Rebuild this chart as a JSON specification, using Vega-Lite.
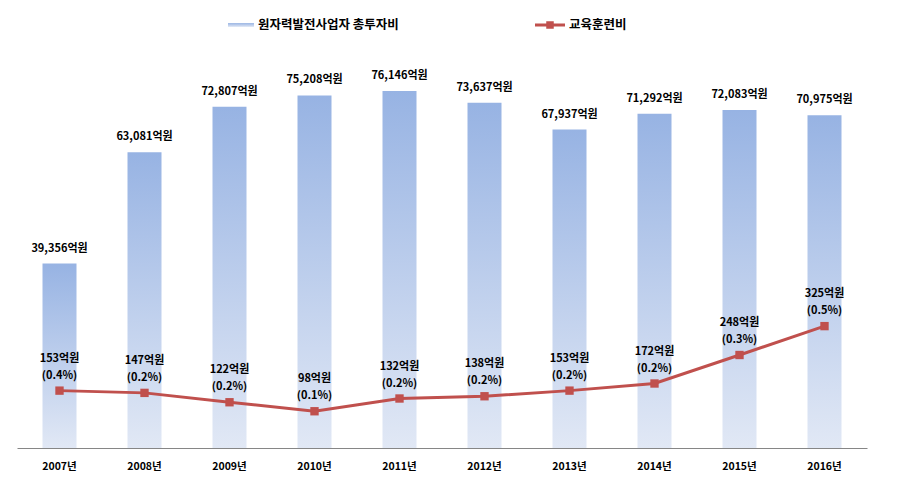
{
  "$schema": "https://vega.github.io/schema/vega-lite/v6.json",
  "width": 850,
  "height": 375,
  "autosize": "none",
  "padding": {"left": 17, "top": 73, "right": 46, "bottom": 39},
  "background": "white",
  "config": {
    "view": {"stroke": null},
    "font": "Noto Sans CJK KR",
    "legend": {"padding": 0, "labelFont": "Noto Sans CJK KR", "labelFontSize": 12.5, "labelFontWeight": "bold", "labelColor": "#000000", "labelOffset": 4}
  },
  "data": {
    "values": [
      {"year": "2007년", "invest": 39356, "investLabel": "39,356억원", "train": 153, "trainLabel": "153억원\n(0.4%)"},
      {"year": "2008년", "invest": 63081, "investLabel": "63,081억원", "train": 147, "trainLabel": "147억원\n(0.2%)"},
      {"year": "2009년", "invest": 72807, "investLabel": "72,807억원", "train": 122, "trainLabel": "122억원\n(0.2%)"},
      {"year": "2010년", "invest": 75208, "investLabel": "75,208억원", "train": 98, "trainLabel": "98억원\n(0.1%)"},
      {"year": "2011년", "invest": 76146, "investLabel": "76,146억원", "train": 132, "trainLabel": "132억원\n(0.2%)"},
      {"year": "2012년", "invest": 73637, "investLabel": "73,637억원", "train": 138, "trainLabel": "138억원\n(0.2%)"},
      {"year": "2013년", "invest": 67937, "investLabel": "67,937억원", "train": 153, "trainLabel": "153억원\n(0.2%)"},
      {"year": "2014년", "invest": 71292, "investLabel": "71,292억원", "train": 172, "trainLabel": "172억원\n(0.2%)"},
      {"year": "2015년", "invest": 72083, "investLabel": "72,083억원", "train": 248, "trainLabel": "248억원\n(0.3%)"},
      {"year": "2016년", "invest": 70975, "investLabel": "70,975억원", "train": 325, "trainLabel": "325억원\n(0.5%)"}
    ]
  },
  "encoding": {
    "x": {
      "field": "year",
      "type": "ordinal",
      "scale": {"paddingInner": 0.6, "paddingOuter": 0.3},
      "axis": {
        "title": null,
        "labelAngle": 0,
        "ticks": false,
        "domainColor": "#868686",
        "domainWidth": 1,
        "labelFontSize": 10.5,
        "labelFontWeight": "bold",
        "labelColor": "#000000",
        "labelPadding": 13
      }
    }
  },
  "layer": [
    {
      "encoding": {
        "y": {"field": "invest", "type": "quantitative", "scale": {"domain": [0, 80000]}, "axis": null}
      },
      "layer": [
        {
          "mark": {
            "type": "bar",
            "color": {
              "gradient": "linear",
              "x1": 0, "y1": 0, "x2": 0, "y2": 1,
              "stops": [
                {"offset": 0, "color": "#97B3E3"},
                {"offset": 1, "color": "#E1E8F5"}
              ]
            }
          },
          "encoding": {
            "opacity": {
              "datum": "원자력발전사업자 총투자비",
              "type": "nominal",
              "scale": {"range": [1]},
              "legend": {
                "title": null,
                "orient": "none",
                "legendX": 211,
                "legendY": -61,
                "symbolType": "M-1,-0.15H1V0.15H-1Z",
                "symbolSize": 676,
                "symbolFillColor": "#A9C1E8",
                "symbolStrokeWidth": 0,
                "symbolOpacity": 1
              }
            }
          }
        },
        {
          "mark": {"type": "text", "baseline": "alphabetic", "dy": -12, "fontSize": 11, "fontWeight": "bold", "color": "#000000"},
          "encoding": {"text": {"field": "investLabel"}}
        }
      ]
    },
    {
      "encoding": {
        "y": {"field": "train", "type": "quantitative", "scale": {"domain": [0, 1000]}, "axis": null}
      },
      "layer": [
        {
          "mark": {"type": "line", "color": "#C0504D", "strokeWidth": 3}
        },
        {
          "mark": {"type": "point", "shape": "square", "filled": true, "size": 70, "color": "#C0504D", "opacity": 1},
          "encoding": {
            "opacity": {
              "datum": "교육훈련비",
              "type": "nominal",
              "scale": {"range": [1]},
              "legend": {
                "title": null,
                "orient": "none",
                "legendX": 518,
                "legendY": -63,
                "symbolType": "M-1,-0.1H-0.25V-0.25H0.25V-0.1H1V0.1H0.25V0.25H-0.25V0.1H-1Z",
                "symbolSize": 900,
                "symbolFillColor": "#C0504D",
                "symbolStrokeWidth": 0,
                "symbolOpacity": 1
              }
            }
          }
        },
        {
          "mark": {"type": "text", "baseline": "bottom", "dy": -27, "fontSize": 11, "fontWeight": "bold", "color": "#000000", "lineBreak": "\n", "lineHeight": 17},
          "encoding": {"text": {"field": "trainLabel"}}
        }
      ]
    }
  ],
  "resolve": {"scale": {"y": "independent", "opacity": "independent"}, "legend": {"opacity": "independent"}}
}
